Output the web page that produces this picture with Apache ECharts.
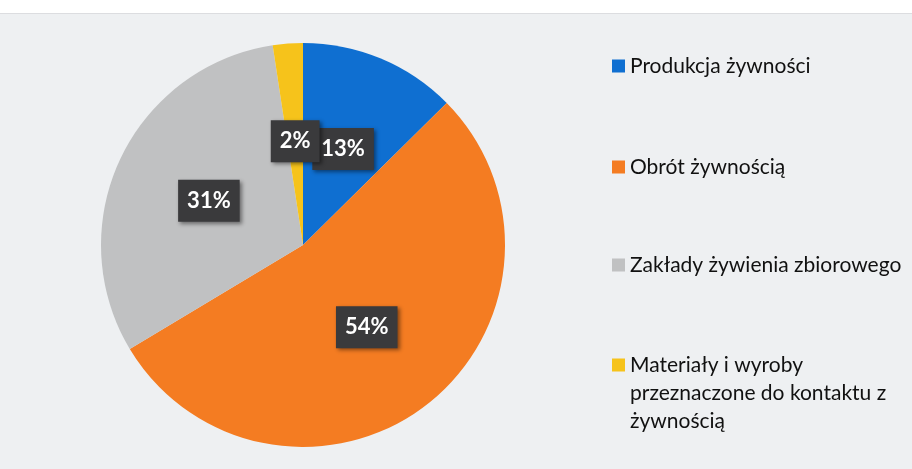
<!DOCTYPE html>
<html>
<head>
<meta charset="utf-8">
<script src="https://cdn.jsdelivr.net/npm/echarts@6/dist/echarts.min.js"></script>
<style>
  html, body { margin: 0; padding: 0; background: #ffffff; }
  #chart { position: absolute; left: 0; top: 13px; width: 912px; height: 456px; border-top: 1px solid #dcdde0; }
</style>
</head>
<body>
<div id="chart"></div>
<script>
'use strict';
// dane wykresu
var categories = ['Produkcja żywności', 'Obrót żywnością', 'Zakłady żywienia zbiorowego', 'Materiały i wyroby przeznaczone do kontaktu z żywnością'];
var values = [12.6, 53.8, 31.2, 2.4];
var colors = ['#0f6fd1', '#f47c22', '#c0c1c2', '#f6c31b'];
var legendCenters = [47, 148, 246, 346]; // środek ikony legendy (y)

var pieData = [];
for (var i = 0; i < categories.length; i++) {
    pieData.push({ name: categories[i], value: values[i], itemStyle: { color: colors[i] } });
}

// osobna legenda dla każdej pozycji
var legends = [];
for (var j = 0; j < categories.length; j++) {
    var lines = j === 3 ? 5 : 1;
    legends.push({
        orient: 'vertical',
        left: 607,
        top: legendCenters[j] - lines * 14,
        itemWidth: 13,
        itemHeight: 13,
        icon: 'rect',
        data: [categories[j]],
        formatter: function (name) {
            if (name === categories[3]) {
                return '\n\nMateriały i wyroby\nprzeznaczone do kontaktu z\nżywnością';
            }
            return name;
        },
        textStyle: {
            fontFamily: 'Lato',
            fontSize: 21,
            lineHeight: 28,
            color: '#111111'
        }
    });
}

var myChart = echarts.init(document.getElementById('chart'));
var option = {
    backgroundColor: '#eef0f2',
    animation: false,
    legend: legends,
    series: [
        {
            name: 'Udział',
            type: 'pie',
            radius: [0, 202],
            center: [303, 231],
            startAngle: 90,
            clockwise: true,
            avoidLabelOverlap: false,
            minShowLabelAngle: 0,
            labelLayout: { hideOverlap: false },
            data: pieData,
            label: {
                show: true,
                position: 'inside',
                formatter: function (p) { return Math.round(p.value) + '%'; },
                color: '#ffffff',
                fontFamily: 'Lato',
                fontWeight: 'bold',
                fontSize: 22,
                backgroundColor: '#3a3a3c',
                padding: [11, 9, 9, 9],
                shadowColor: 'rgba(0,0,0,0.45)',
                shadowBlur: 4,
                shadowOffsetX: 2,
                shadowOffsetY: 2
            },
            labelLine: { show: false },
            emphasis: { disabled: true }
        }
    ]
};
myChart.setOption(option);
</script>
</body>
</html>
